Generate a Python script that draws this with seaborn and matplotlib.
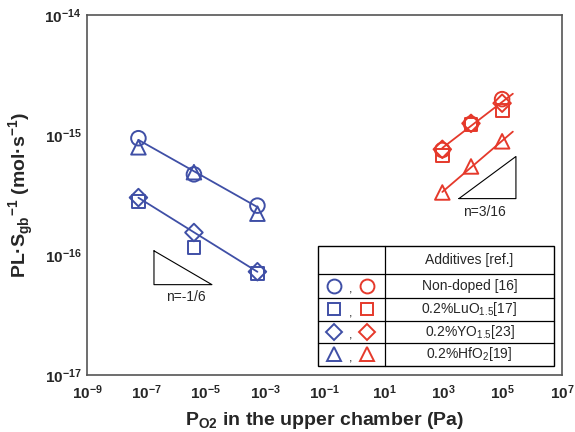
import numpy as np
import matplotlib
matplotlib.use("Agg")
import matplotlib.pyplot as plt
import seaborn as sns

# ---- data ----
x_low = [5.4e-8, 4.0e-6, 5.5e-4]            # lower set (blue)
nondoped_low = [9.4e-16, 4.7e-16, 2.58e-16]
luo_low = [2.79e-16, 1.15e-16, 6.98e-17]
yo_low = [3.01e-16, 1.54e-16, 7.26e-17]
hfo_low = [7.9e-16, 4.9e-16, 2.21e-16]

x_high = [9.3e2, 8.6e3, 9.6e4]              # higher set (red)
nondoped_high = [7.5e-16, 1.24e-15, 1.99e-15]
luo_high = [6.8e-16, 1.22e-15, 1.61e-15]
yo_high = [7.6e-16, 1.25e-15, 1.84e-15]
hfo_high = [3.32e-16, 5.47e-16, 8.86e-16]

labels = ["Non-doped [16]", r"0.2%LuO$_{1.5}$[17]", r"0.2%YO$_{1.5}$[23]", r"0.2%HfO$_2$[19]"]
markers = ["o", "s", "D", "^"]
sizes = [110, 85, 80, 110]
xticks = [1e-9, 1e-7, 1e-5, 1e-3, 1e-1, 1e1, 1e3, 1e5, 1e7]
yticks = [1e-17, 1e-16, 1e-15, 1e-14]

blue = "#3F4FA6"
red = "#E5392B"

sns.set_style("white")
plt.rcParams["font.family"] = ["Liberation Sans", "DejaVu Sans"]
plt.rcParams["mathtext.fontset"] = "custom"
plt.rcParams["mathtext.rm"] = "Liberation Sans"
plt.rcParams["mathtext.bf"] = "Liberation Sans:bold"

fig = plt.figure(figsize=(5.75, 4.32), dpi=100)
ax = fig.add_axes([0.1513, 0.1319, 0.8261, 0.8334])
ax.set_xscale("log")
ax.set_yscale("log")


def fit_line(xs, ys, x_end, color):
    # straight line in log-log space through one series
    k, b = np.polyfit(np.log10(xs), np.log10(ys), 1)
    xl = np.array([xs[0], x_end])
    sns.lineplot(x=xl, y=10 ** (k * np.log10(xl) + b), color=color, lw=1.3, ax=ax, zorder=2)


fit_line(x_low, nondoped_low, x_low[-1], blue)
fit_line(x_low, yo_low, x_low[-1], blue)
fit_line(x_high, yo_high, x_high[-1] * 2.3, red)
fit_line(x_high, hfo_high, x_high[-1] * 2.3, red)

series_low = [nondoped_low, luo_low, yo_low, hfo_low]
series_high = [nondoped_high, luo_high, yo_high, hfo_high]
for m, s, yl, yh in zip(markers, sizes, series_low, series_high):
    sns.scatterplot(x=x_low, y=yl, marker=m, s=s, facecolor="none", edgecolor=blue,
                    linewidth=1.4, ax=ax, zorder=3)
    sns.scatterplot(x=x_high, y=yh, marker=m, s=s, facecolor="none", edgecolor=red,
                    linewidth=1.4, ax=ax, zorder=3)

ax.set_xlim(1e-9, 1e7)
ax.set_ylim(1e-17, 1e-14)
ax.set_xticks(xticks)
ax.set_yticks(yticks)
ax.xaxis.set_minor_locator(matplotlib.ticker.NullLocator())
ax.yaxis.set_minor_locator(matplotlib.ticker.LogLocator(base=10, subs=np.arange(2, 10)))
ax.yaxis.set_minor_formatter(matplotlib.ticker.NullFormatter())
ax.tick_params(axis="both", which="both", direction="in", labelsize=11)
ax.tick_params(axis="x", which="major", length=4, width=1, color="#555555", pad=6)
ax.tick_params(axis="y", which="major", length=4, width=1, color="#555555", pad=4)
ax.tick_params(axis="y", which="minor", length=2.5, width=0.8, color="#777777")
for lab in ax.get_xticklabels() + ax.get_yticklabels():
    lab.set_fontweight("bold")
for sp in ax.spines.values():
    sp.set_color("#555555")
    sp.set_linewidth(1.2)

ax.set_xlabel(r"P$_\mathbf{O2}$ in the upper chamber (Pa)", fontsize=14, fontweight="bold", labelpad=6)
ax.set_ylabel(r"PL·S$_\mathbf{gb}$$^\mathbf{-1}$ (mol·s$^\mathbf{-1}$)", fontsize=14, fontweight="bold", labelpad=6)

# slope triangles
ta = ax.transAxes
ax.plot([0.141, 0.141, 0.263, 0.141], [0.345, 0.251, 0.251, 0.345], color="black", lw=0.8, transform=ta)
ax.text(0.209, 0.218, "n=-1/6", transform=ta, ha="center", va="center", fontsize=10)
ax.plot([0.783, 0.903, 0.903, 0.783], [0.490, 0.607, 0.490, 0.490], color="black", lw=0.8, transform=ta)
ax.text(0.836, 0.454, "n=3/16", transform=ta, ha="center", va="center", fontsize=10)

# legend table
x0, xc, x1 = 0.486, 0.627, 0.983
rows = [0.359, 0.281, 0.214, 0.150, 0.089, 0.025]
ax.add_patch(plt.Rectangle((x0, rows[-1]), x1 - x0, rows[0] - rows[-1], transform=ta,
                           facecolor="white", edgecolor="black", lw=1.0, zorder=5))
for r in rows[1:-1]:
    ax.plot([x0, x1], [r, r], color="black", lw=0.9, transform=ta, zorder=6)
ax.plot([xc, xc], [rows[0], rows[-1]], color="black", lw=0.9, transform=ta, zorder=6)
ax.text((xc + x1) / 2, (rows[0] + rows[1]) / 2, "Additives [ref.]", transform=ta,
        ha="center", va="center", fontsize=10, zorder=7)
for i, (m, lab) in enumerate(zip(markers, labels)):
    yc = (rows[i + 1] + rows[i + 2]) / 2
    ms = 10 if m in ("o", "^") else 8.5
    ax.plot([0.520], [yc], marker=m, ms=ms, mfc="none", mec=blue, mew=1.4, transform=ta, zorder=7)
    ax.plot([0.590], [yc], marker=m, ms=ms, mfc="none", mec=red, mew=1.4, transform=ta, zorder=7)
    ax.text(0.555, yc - 0.010, ",", transform=ta, ha="center", va="center", fontsize=9, zorder=7)
    ax.text((xc + x1) / 2, yc, lab, transform=ta, ha="center", va="center", fontsize=10, zorder=7)

fig.savefig("out.png", dpi=100)
